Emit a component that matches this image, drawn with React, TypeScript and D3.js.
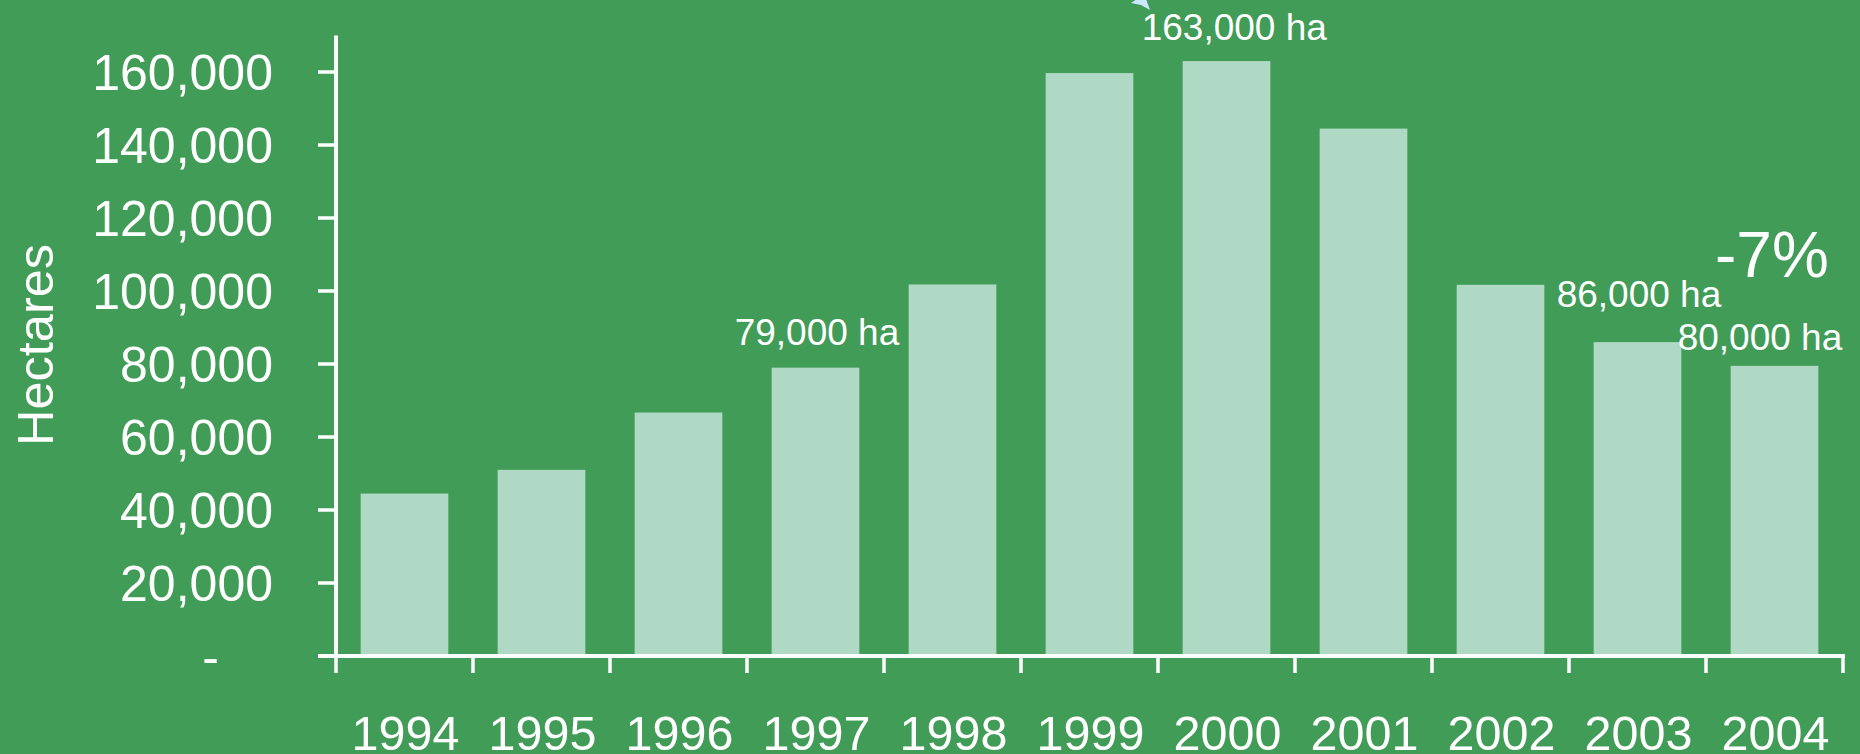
import React from "react";
import * as d3 from "d3";

const years = ["1994", "1995", "1996", "1997", "1998", "1999", "2000", "2001", "2002", "2003", "2004"];
const hectares = [44500, 51000, 66700, 79000, 101800, 159700, 163000, 144500, 101700, 86000, 79500];
const yTickValues = [0, 20000, 40000, 60000, 80000, 100000, 120000, 140000, 160000];
const yTickLabels = ["-", "20,000", "40,000", "60,000", "80,000", "100,000", "120,000", "140,000", "160,000"];
const annotationYears = ["2000", "1997", "2003", "2004"];
const annotationTexts = ["163,000 ha", "79,000 ha", "86,000 ha", "80,000 ha"];
const changeLabel = "-7%";
const yTitle = "Hectares";

const W = 1860;
const H = 754;
const BG = "#419C57";
const BAR = "#AFD9C5";
const FONT = "'Liberation Sans', Arial, sans-serif";

export default function App() {
  const x = d3.scaleBand<string>().domain(years).range([336, 1843]).paddingInner(0.36).paddingOuter(0.18);
  const y = d3.scaleLinear().domain([0, 170000]).range([656, 35.5]);
  const step = x.step();
  const x0 = 336;
  const y0 = y(0);
  const boundaries = d3.range(years.length + 1).map((i) => x0 + i * step);

  const annOffsets: Record<string, [number, number]> = {
    "2000": [-41, -21],
    "1997": [-37, -23],
    "2003": [-37, -35],
    "2004": [-53, -16],
  };

  return (
    <svg width={W} height={H} style={{ position: "absolute", left: 0, top: 0, display: "block" }} fontFamily={FONT}>
      <rect x={0} y={0} width={W} height={H} fill={BG} />
      {/* bars */}
      {years.map((yr, i) => (
        <rect key={yr} x={x(yr)} y={y(hectares[i])} width={x.bandwidth()} height={y0 - y(hectares[i])} fill={BAR} />
      ))}
      {/* y axis */}
      <line x1={x0} x2={x0} y1={y.range()[1]} y2={y0 + 2} stroke="#fff" strokeWidth={4} />
      {yTickValues.map((v, i) => (
        <g key={v}>
          <line x1={318} x2={x0} y1={y(v)} y2={y(v)} stroke="#fff" strokeWidth={3.5} />
          <text
            x={i === 0 ? 219 : 273}
            y={y(v)}
            dy="0.36em"
            textAnchor="end"
            fill="#fff"
            fontSize={50}
          >
            {yTickLabels[i]}
          </text>
        </g>
      ))}
      {/* x axis */}
      <line x1={318} x2={1845} y1={y0} y2={y0} stroke="#fff" strokeWidth={4} />
      {boundaries.map((bx, i) => (
        <line key={i} x1={bx} x2={bx} y1={y0} y2={y0 + 17} stroke="#fff" strokeWidth={3.5} />
      ))}
      {years.map((yr) => (
        <text key={yr} x={(x(yr) as number) + x.bandwidth() / 2 + 1} y={750} textAnchor="middle" fill="#fff" fontSize={48.5}>
          {yr}
        </text>
      ))}
      {/* y title */}
      <text transform={`translate(53,345) rotate(-90)`} textAnchor="middle" fill="#fff" fontSize={50.5}>
        {yTitle}
      </text>
      {/* annotations */}
      {annotationYears.map((yr, i) => {
        const idx = years.indexOf(yr);
        const [dx, dy] = annOffsets[yr];
        return (
          <text key={yr} x={(x(yr) as number) + dx} y={y(hectares[idx]) + dy} fill="#fff" fontSize={37}>
            {annotationTexts[i]}
          </text>
        );
      })}
      <text x={1715} y={277} fill="#fff" fontSize={64}>
        {changeLabel}
      </text>
      {/* arrow tip (cut off at top) */}
      <polygon points="1131,3 1141,5 1150,10 1146,-1 1137,-1" fill="#CCE8FF" />
    </svg>
  );
}
